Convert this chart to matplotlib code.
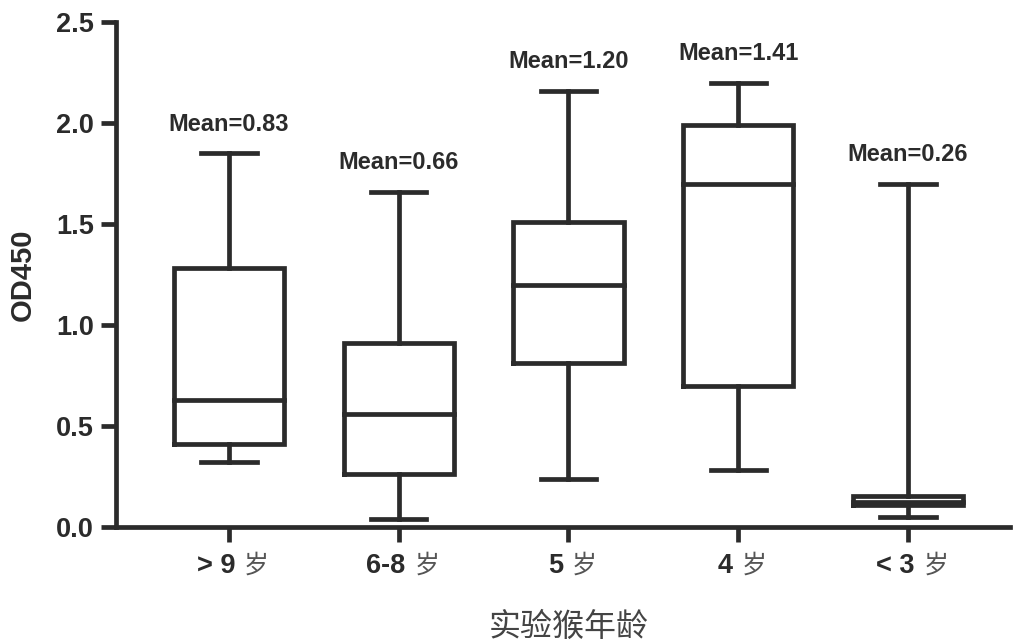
import matplotlib
matplotlib.use("Agg")
import matplotlib.pyplot as plt

# group labels and box statistics (OD450)
ages = ["> 9", "6-8", "5", "4", "< 3"]
unit = "岁"
mins = [0.32, 0.04, 0.24, 0.28, 0.05]
q1s = [0.41, 0.26, 0.81, 0.70, 0.11]
medians = [0.63, 0.56, 1.20, 1.70, 0.125]
q3s = [1.28, 0.91, 1.51, 1.99, 0.155]
maxs = [1.85, 1.66, 2.16, 2.20, 1.70]
means = [0.83, 0.66, 1.20, 1.41, 0.26]

ink = "#2b2b2b"
lw = 3.4
fam = ["Liberation Sans", "Noto Sans CJK SC", "DejaVu Sans"]
cjk = ["Noto Sans CJK SC", "DejaVu Sans"]

stats = []
for i in range(len(ages)):
    stats.append(dict(whislo=mins[i], q1=q1s[i], med=medians[i], q3=q3s[i],
                      whishi=maxs[i], fliers=[]))

fig = plt.figure(figsize=(10.16, 6.44), dpi=100)
ax = fig.add_axes([0.1142, 0.1817, 0.8798, 0.7841])

pos = list(range(1, len(ages) + 1))
line = dict(color=ink, linewidth=lw, solid_capstyle="projecting")
ax.bxp(stats, positions=pos, widths=0.65, showfliers=False,
       boxprops=dict(color=ink, linewidth=lw, solid_joinstyle="miter"),
       whiskerprops=line, capprops=line, medianprops=line)

for x, top, m in zip(pos, maxs, means):
    ax.annotate(f"Mean={m:.2f}", (x, top), xytext=(0, 16), textcoords="offset points",
                ha="center", va="baseline", fontsize=17, fontweight="bold",
                family=fam, color=ink)

ax.set_xlim(0.335, 5.6)
ax.set_ylim(0, 2.5)
ax.set_yticks([0.0, 0.5, 1.0, 1.5, 2.0, 2.5])
ax.set_yticklabels(["0.0", "0.5", "1.0", "1.5", "2.0", "2.5"])
ax.set_xticks(pos)
ax.set_xticklabels([""] * len(pos))

for s in ["top", "right"]:
    ax.spines[s].set_visible(False)
for s in ["left", "bottom"]:
    ax.spines[s].set_linewidth(lw)
    ax.spines[s].set_color(ink)
    ax.spines[s].set_capstyle("projecting")

ax.tick_params(axis="both", length=11, width=lw, color=ink, pad=5)
for t in ax.get_yticklabels():
    t.set_family(fam)
    t.set_fontsize(19.5)
    t.set_fontweight("bold")
    t.set_color(ink)

# x tick labels: bold number part + lighter "岁", centred together under each tick
parts = []
for x, a in zip(pos, ages):
    t1 = ax.annotate(a, (x, 0), xycoords=("data", "axes fraction"), xytext=(0, -46),
                     textcoords="offset pixels", ha="left", va="baseline",
                     fontsize=19.5, fontweight="bold", family=fam, color=ink)
    t2 = ax.annotate(unit, (x, 0), xycoords=("data", "axes fraction"), xytext=(0, -46),
                     textcoords="offset pixels", ha="left", va="baseline",
                     fontsize=18, fontweight="light", family=cjk, color="#555555")
    parts.append((t1, t2))

fig.canvas.draw()
r = fig.canvas.get_renderer()
gap = 9
for t1, t2 in parts:
    w1 = t1.get_window_extent(r).width
    w2 = t2.get_window_extent(r).width
    total = w1 + gap + w2
    t1.xyann = (-total / 2 + 4, -46)
    t2.xyann = (-total / 2 + 4 + w1 + gap, -46)

fig.text(23 / 1016, 0.5 * (0.1817 * 2 + 0.7841), "OD450", rotation=90, ha="center",
         va="center", fontsize=21, fontweight="bold", family=fam, color=ink)
ax.annotate("实验猴年龄", (3, 0), xycoords=("data", "axes fraction"), xytext=(0, -100),
            textcoords="offset pixels", ha="center", va="center", fontsize=23,
            fontweight="light", family=cjk, color="#444444")

fig.savefig("out.png", dpi=100)
